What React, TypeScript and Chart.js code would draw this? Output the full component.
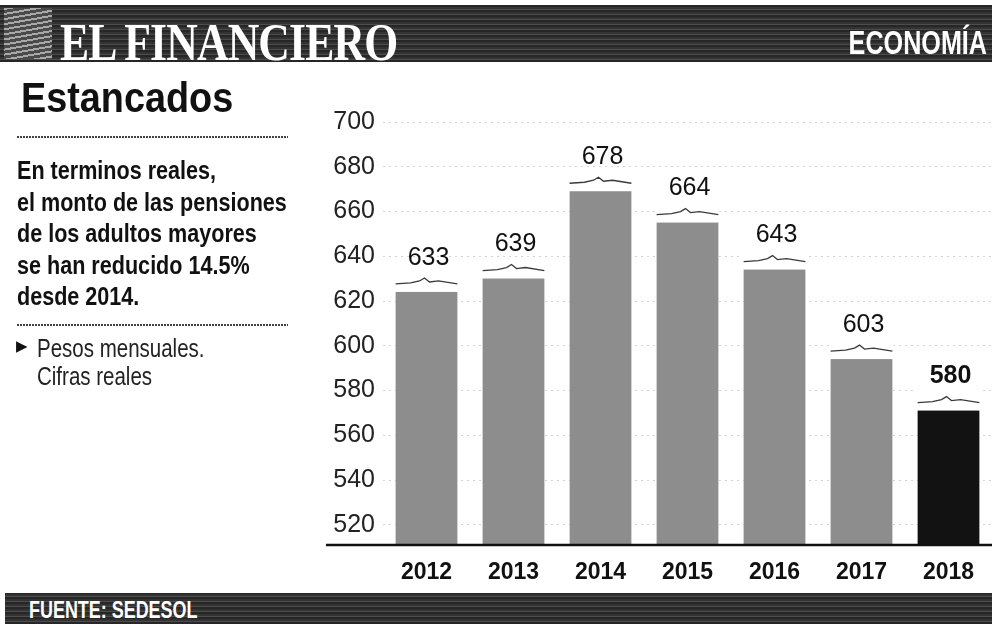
import React, { useEffect, useRef } from "react";
import { Chart, registerables } from "chart.js";

Chart.register(...registerables);

// ---- data ----
const years = ["2012", "2013", "2014", "2015", "2016", "2017", "2018"];
const pensiones = [633, 639, 678, 664, 643, 603, 580];
const yTicks = [520, 540, 560, 580, 600, 620, 640, 660, 680, 700];
const titleText = "Estancados";
const subtitleLines = [
  "En terminos reales,",
  "el monto de las pensiones",
  "de los adultos mayores",
  "se han reducido 14.5%",
  "desde 2014.",
];
const noteLines = ["Pesos mensuales.", "Cifras reales"];
const sourceText = "FUENTE: SEDESOL";
const brandText = "EL FINANCIERO";
const sectionText = "ECONOMÍA";

const SANS = "'Liberation Sans', Arial, sans-serif";
const BAR_GRAY = "#8d8d8d";
const BAR_DARK = "#121212";
const BAND_BG =
  "repeating-linear-gradient(0deg, #262626 0px, #262626 2px, #4d4d4d 2px, #4d4d4d 3px, #333 3px, #333 5px)";

const lastIndex = pensiones.length - 1;

const breakPlugin = {
  id: "breakLabels",
  afterDatasetsDraw(chart: any) {
    const ctx = chart.ctx;
    const meta = chart.getDatasetMeta(0);
    meta.data.forEach((bar: any, i: number) => {
      const { x, y, width } = bar.getProps(["x", "y", "width"], true);
      const l = x - width / 2;
      const r = x + width / 2;
      ctx.save();
      // white gap of the axis break
      ctx.fillStyle = "#ffffff";
      ctx.fillRect(l - 1, y - 1, width + 2, 21);
      // break line
      const yl = y + 11;
      ctx.strokeStyle = "#3a3a3a";
      ctx.lineWidth = 1.3;
      ctx.beginPath();
      ctx.moveTo(l, yl + 1);
      ctx.lineTo(x - 16, yl);
      ctx.lineTo(x - 7, yl - 2);
      ctx.lineTo(x - 2, yl - 5);
      ctx.lineTo(x + 3, yl - 1);
      ctx.lineTo(x + 12, yl - 2);
      ctx.lineTo(r, yl + 1);
      ctx.stroke();
      // value label
      ctx.fillStyle = "#111";
      ctx.font = (i === lastIndex ? "bold " : "") + "25px " + SANS;
      ctx.textAlign = "center";
      ctx.textBaseline = "middle";
      ctx.fillText(String(pensiones[i]), x + 2, y - 14);
      ctx.restore();
    });
    const { right, bottom } = chart.chartArea;
    ctx.save();
    ctx.strokeStyle = "#111";
    ctx.lineWidth = 2.5;
    ctx.beginPath();
    ctx.moveTo(326, bottom);
    ctx.lineTo(right, bottom);
    ctx.stroke();
    ctx.restore();
  },
};

function ChartCanvas() {
  const ref = useRef<HTMLCanvasElement | null>(null);
  useEffect(() => {
    if (!ref.current) return;
    const chart = new Chart(ref.current, {
      type: "bar",
      data: {
        labels: years,
        datasets: [
          {
            data: pensiones,
            backgroundColor: pensiones.map((_, i) => (i === lastIndex ? BAR_DARK : BAR_GRAY)),
            borderWidth: 0,
            barPercentage: 0.71,
            categoryPercentage: 1,
          },
        ],
      },
      options: {
        animation: false,
        responsive: false,
        maintainAspectRatio: false,
        layout: { padding: { left: 320, top: 122, right: 0, bottom: 0 } },
        plugins: { legend: { display: false }, tooltip: { enabled: false } },
        scales: {
          x: {
            grid: { display: false, drawTicks: false },
            border: { display: false },
            ticks: {
              color: "#111",
              padding: 14,
              font: { family: SANS, size: 23, weight: "bold" },
            },
            afterFit: (s: any) => {
              s.height = 79;
            },
          },
          y: {
            min: 511,
            max: 700,
            afterBuildTicks: (s: any) => {
              s.ticks = yTicks.map((v) => ({ value: v }));
            },
            grid: { color: "rgba(0,0,0,0.17)", drawTicks: false, lineWidth: 1 },
            border: { display: false, dash: [2, 4] },
            ticks: {
              color: "#222",
              padding: 8,
              font: { family: SANS, size: 25 },
            },
            afterFit: (s: any) => {
              s.width = 63;
            },
          },
        },
      },
      plugins: [breakPlugin],
    } as any);
    return () => chart.destroy();
  }, []);
  return (
    <canvas
      ref={ref}
      width={992}
      height={624}
      style={{ position: "absolute", left: 0, top: 0, width: 992, height: 624, display: "block" }}
    />
  );
}

export default function App() {
  const abs = (s: React.CSSProperties): React.CSSProperties => ({ position: "absolute", ...s });
  return (
    <div style={{ position: "absolute", left: 0, top: 0, width: 992, height: 624, background: "#fff", overflow: "hidden" }}>
      <ChartCanvas />
      {/* header band */}
      <div style={abs({ left: 0, top: 5, width: 992, height: 57, background: BAND_BG })} />
      <div
        style={abs({
          left: 4,
          top: 8,
          width: 48,
          height: 51,
          background: "repeating-linear-gradient(170deg, #a8a8a8 0px, #a8a8a8 2px, #4a4a4a 2px, #4a4a4a 5px)",
        })}
      />
      <div
        style={abs({
          left: 60,
          top: 17,
          color: "#fff",
          fontFamily: "'Liberation Serif', 'DejaVu Serif', serif",
          fontWeight: "bold",
          fontSize: 52,
          lineHeight: 1,
          whiteSpace: "nowrap",
          letterSpacing: -1,
          transform: "scaleX(0.84)",
          transformOrigin: "left top",
        })}
      >
        {brandText}
      </div>
      <div
        style={abs({
          right: 5,
          top: 25,
          color: "#fff",
          fontFamily: SANS,
          fontWeight: "bold",
          fontSize: 34,
          lineHeight: 1,
          whiteSpace: "nowrap",
          transform: "scaleX(0.74)",
          transformOrigin: "right top",
        })}
      >
        {sectionText}
      </div>
      {/* title */}
      <div
        style={abs({
          left: 21,
          top: 77,
          color: "#111",
          fontFamily: SANS,
          fontWeight: "bold",
          fontSize: 42,
          lineHeight: 1,
          whiteSpace: "nowrap",
          transform: "scaleX(0.9)",
          transformOrigin: "left top",
        })}
      >
        {titleText}
      </div>
      <div
        style={abs({
          left: 17,
          top: 136,
          width: 271,
          height: 2,
          background: "repeating-linear-gradient(90deg, #444 0px, #444 2px, transparent 2px, transparent 3px)",
        })}
      />
      <div
        style={abs({
          left: 17,
          top: 155,
          color: "#111",
          fontFamily: SANS,
          fontWeight: "bold",
          fontSize: 26,
          lineHeight: "31.5px",
          whiteSpace: "nowrap",
          transform: "scaleX(0.83)",
          transformOrigin: "left top",
        })}
      >
        {subtitleLines.map((t) => (
          <div key={t}>{t}</div>
        ))}
      </div>
      <div
        style={abs({
          left: 17,
          top: 324,
          width: 271,
          height: 2,
          background: "repeating-linear-gradient(90deg, #444 0px, #444 2px, transparent 2px, transparent 3px)",
        })}
      />
      <div style={abs({ left: 16, top: 339, fontSize: 15, lineHeight: 1, color: "#111", fontFamily: "'DejaVu Sans', sans-serif" })}>▶</div>
      <div
        style={abs({
          left: 37,
          top: 334,
          color: "#222",
          fontFamily: SANS,
          fontSize: 25,
          lineHeight: "28px",
          whiteSpace: "nowrap",
          transform: "scaleX(0.82)",
          transformOrigin: "left top",
        })}
      >
        {noteLines.map((t) => (
          <div key={t}>{t}</div>
        ))}
      </div>
      {/* footer band */}
      <div style={abs({ left: 5, top: 593, width: 987, height: 31, background: BAND_BG })} />
      <div
        style={abs({
          left: 29,
          top: 599,
          color: "#fff",
          fontFamily: SANS,
          fontWeight: "bold",
          fontSize: 23,
          lineHeight: 1,
          whiteSpace: "nowrap",
          transform: "scaleX(0.78)",
          transformOrigin: "left top",
        })}
      >
        {sourceText}
      </div>
    </div>
  );
}
